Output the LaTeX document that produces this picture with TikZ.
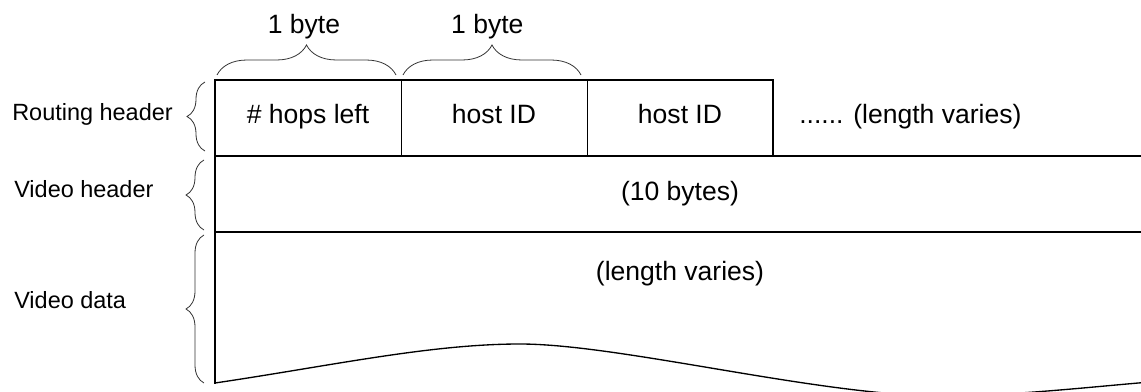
\documentclass[tikz,border=0pt]{standalone}
\usepackage{fontspec}
\setmainfont{Liberation Sans}
\usetikzlibrary{positioning,calc,decorations.pathreplacing}
\newcommand{\boxfont}{\fontsize{19.9}{24}\selectfont}
\newcommand{\labelfont}{\fontsize{17.6}{21}\selectfont}
\tikzset{
  fieldbox/.style={draw=black,line width=0.75pt,minimum width=139.5pt,minimum height=57pt,inner sep=0pt,outer sep=0pt,font=\boxfont,text height=1em,text depth=0.15em},
  rowlabel/.style={anchor=west,inner sep=0pt,font=\labelfont,text height=0.75em,text depth=0.2em},
  plaintext/.style={inner sep=0pt,font=\boxfont,text height=0.75em,text depth=0.2em},
  frameline/.style={line width=1.5pt,draw=black,line cap=rect},
  waveline/.style={line width=1pt,draw=black},
  topbrace/.style={decorate,decoration={brace,amplitude=22.5pt},line width=0.6pt,draw=black!80},
  sidebrace/.style={decorate,decoration={brace,amplitude=13.5pt},line width=0.6pt,draw=black!80}
}

\begin{document}
\begin{tikzpicture}[x=0.75pt,y=-0.75pt]
\useasboundingbox (0,0) rectangle (1141,392);
\clip (0,0) rectangle (1141,392);
% routing header fields
\node[fieldbox] (hops) at (308,118) {\# hops left};
\node[fieldbox,right=0pt of hops] (hostA) {host ID};
\node[fieldbox,right=0pt of hostA] (hostB) {host ID};
\node[plaintext,anchor=west] (more) at (799,120) {...... (length varies)};
\coordinate (vidL) at (215,232);
\coordinate (waveL) at (215,383);
\coordinate (rowA) at (1150,156);
\coordinate (rowB) at (1150,232);
% outer frame
\draw[frameline] (waveL) -- (hops.north west) -- (hostB.north east) -- (hostB.south east);
\draw[frameline] (hops.south west) -- (rowA);
\draw[frameline] (vidL) -- (rowB);
\draw[waveline] (waveL) .. controls (330,366) and (430,344) .. (520,344)
  .. controls (620,344) and (820,396) .. (942,396)
  .. controls (1010,396) and (1090,387) .. (1150,382);
% contents
\node[plaintext] (vhdr) at (680,197) {(10 bytes)};
\node[plaintext] (vdata) at (680,277) {(length varies)};
% byte braces
\draw[topbrace] ($(hops.north west)+(2,-5)$) -- ($(hops.north east)+(-5,-5)$);
\draw[topbrace] ($(hostA.north west)+(2,-5)$) -- ($(hostA.north east)+(-6,-5)$);
\node[plaintext,above=33pt of hops.north,xshift=-3pt] (byteA) {1 byte};
\node[plaintext,above=33pt of hostA.north,xshift=-5pt] (byteB) {1 byte};
% row braces
\draw[sidebrace] ($(hops.south west)+(-10,-5)$) -- ($(hops.north west)+(-10,2)$);
\draw[sidebrace] ($(vidL)+(-11,-2)$) -- ($(hops.south west)+(-11,4)$);
\draw[sidebrace] ($(waveL)+(-11,0)$) -- ($(vidL)+(-11,3)$);
\node[rowlabel] (lblRoute) at (12,117) {Routing header};
\node[rowlabel] (lblVhdr) at (14,194) {Video header};
\node[rowlabel] (lblVdata) at (14,305) {Video data};
\end{tikzpicture}
\end{document}
